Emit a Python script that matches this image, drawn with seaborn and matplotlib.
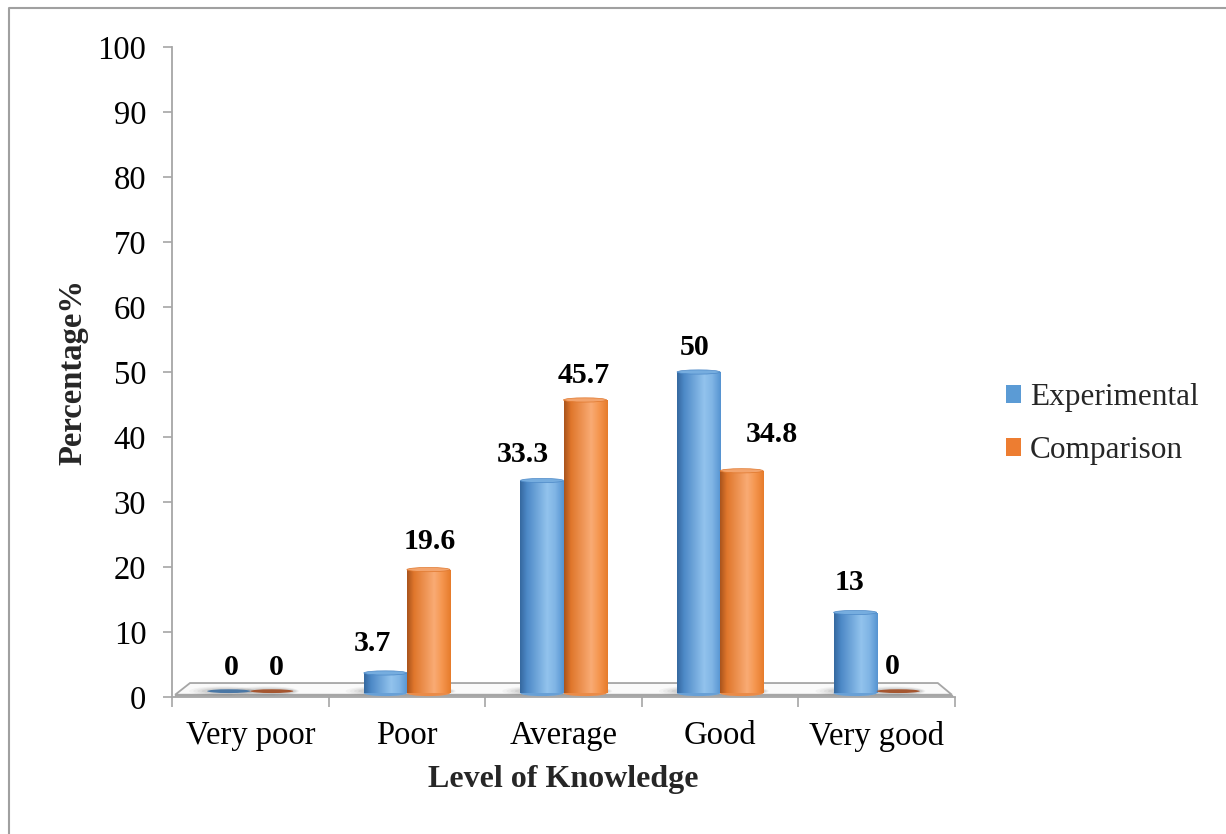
import numpy as np
import pandas as pd
import matplotlib
matplotlib.use("Agg")
import matplotlib.pyplot as plt
import seaborn as sns
from matplotlib.patches import Ellipse, Polygon, Patch
from matplotlib.lines import Line2D
from matplotlib.colors import to_rgb

# ---- data -------------------------------------------------------------
levels = ["Very poor", "Poor", "Average", "Good", "Very good"]
groups = ["Experimental", "Comparison"]
experimental = [0, 3.7, 33.3, 50, 13]
comparison = [0, 19.6, 45.7, 34.8, 0]
y_ticks = [0, 10, 20, 30, 40, 50, 60, 70, 80, 90, 100]

# label nudges (points) so the value labels sit clear of each other
exp_label_nudge = [(2, -1), (-9, -1), (-14, -3.3), (-3, -4.5), (-4, -0.3)]
comp_label_nudge = [(3, -1), (1, -2), (-1, -4.5), (22, 3.8), (-4, 0)]

# ---- style ------------------------------------------------------------
sns.set_style("white")
plt.rcParams["font.family"] = ["Liberation Serif", "DejaVu Serif"]

BLUE = "#5b9bd5"
ORANGE = "#ed7d31"
GRID_GREY = "#a6a6a6"

shade = {
    BLUE: dict(stops=["#35689f", "#4d89c7", "#92c3ed", "#80b5e5", "#5593d1"],
               cap="#76addf", flat="#4a77a5"),
    ORANGE: dict(stops=["#a9531c", "#e0772c", "#f9ab74", "#f5964f", "#e67b2b"],
                 cap="#f3a46d", flat="#a55630"),
}
stop_pos = [0.0, 0.16, 0.62, 0.8, 1.0]

df = pd.DataFrame({
    "level": levels * 2,
    "group": [groups[0]] * len(levels) + [groups[1]] * len(levels),
    "pct": experimental + comparison,
})

W, H = 1226, 834
fig = plt.figure(figsize=(W / 100, H / 100), dpi=100)
ax = fig.add_axes([172 / W, 1 - 697 / H, (955 - 172) / W, (697 - 47) / H])

sns.barplot(data=df, x="level", y="pct", hue="group", hue_order=groups,
            order=levels, palette=[BLUE, ORANGE], width=0.55, saturation=1,
            legend=False, ax=ax, zorder=3, linewidth=0)

# floor of the chart
floor_top = Polygon([(-0.385, 2.15), (4.39, 2.15), (4.48, 0.35), (-0.48, 0.35)],
                    closed=True, facecolor="#fafafa", edgecolor=GRID_GREY,
                    lw=1.3, zorder=1)
floor_front = Polygon([(-0.48, 0.35), (4.48, 0.35), (4.48, 0.0), (-0.48, 0.0)],
                      closed=True, facecolor="#e6e6e6", edgecolor=GRID_GREY,
                      lw=1.0, zorder=1)
ax.add_patch(floor_top)
ax.add_patch(floor_front)


def gradient_row(stops, n=200):
    rgb = np.array([to_rgb(c) for c in stops])
    t = np.linspace(0, 1, n)
    row = np.stack([np.interp(t, stop_pos, rgb[:, k]) for k in range(3)], axis=-1)
    return row[np.newaxis, :, :]


cap_h = 0.65  # cap ellipse height in data units
for container, base, values, nudges in zip(
        ax.containers, [BLUE, ORANGE], [experimental, comparison],
        [exp_label_nudge, comp_label_nudge]):
    style = shade[base]
    for bar, v, (dx, dy) in zip(container, values, nudges):
        x, w, h = bar.get_x(), bar.get_width(), bar.get_height()
        cx = x + w / 2
        # soft shadow on the floor
        for k, a in enumerate([0.05, 0.06, 0.08, 0.10]):
            sh = Ellipse((cx - 0.04 * (4 - k) / 4, 0.9), w * (1.55 - 0.12 * k),
                         1.5 - 0.2 * k, facecolor="#606060", alpha=a,
                         lw=0, zorder=2)
            ax.add_patch(sh)
        if h > 0:
            im = ax.imshow(gradient_row(style["stops"]), extent=(x, x + w, 0.6, h),
                           aspect="auto", zorder=3.5, interpolation="bilinear")
            im.set_clip_path(bar)
            bottom = Ellipse((cx, 0.6), w, cap_h * 1.4, facecolor=style["stops"][2],
                             lw=0, zorder=3.4)
            ax.add_patch(bottom)
            ax.add_patch(Ellipse((cx, 0.6), w, cap_h * 1.4, facecolor=style["stops"][1],
                                 alpha=0.6, lw=0, zorder=3.45))
            cap = Ellipse((cx, h), w, cap_h, facecolor=style["cap"],
                          edgecolor=style["stops"][1], lw=0.5, zorder=4)
            ax.add_patch(cap)
            bar.set_y(0.6)
            bar.set_height(h - 0.6)
        else:
            flat = Ellipse((cx, 0.9), w, cap_h * 0.9, facecolor=style["flat"],
                           lw=0, zorder=4)
            ax.add_patch(flat)
        ax.annotate(f"{v:g}", (cx, v), xytext=(dx, 22 + dy),
                    textcoords="offset points", ha="center", va="center",
                    fontsize=21.5, fontweight="bold", color="black", zorder=6)

# ---- axes -------------------------------------------------------------
ax.set_xlim(-0.5, 4.5)
ax.set_ylim(0, 100)
ax.set_yticks(y_ticks)
ax.set_yticklabels([str(t) for t in y_ticks])
ax.set_xticks(range(len(levels)))
ax.set_xticklabels(levels)
ax.set_xticks(np.arange(-0.5, len(levels), 1), minor=True)

for side in ["top", "right"]:
    ax.spines[side].set_visible(False)
for side in ["left", "bottom"]:
    ax.spines[side].set_color(GRID_GREY)
    ax.spines[side].set_linewidth(1.3)

ax.tick_params(axis="y", which="major", length=6.5, width=1.2, color=GRID_GREY,
               pad=12, labelsize=23.5, labelcolor="black", direction="out", left=True)
ax.tick_params(axis="x", which="major", length=0, pad=17, labelsize=23.5,
               labelcolor="black", bottom=True)
ax.tick_params(axis="x", which="minor", length=7.5, width=1.2, color=GRID_GREY,
               direction="out", bottom=True)

ax.set_xlabel("Level of Knowledge", fontsize=23, fontweight="bold")
ax.set_ylabel("Percentage%", fontsize=23.5, fontweight="bold")
ax.xaxis.set_label_coords(0.5, (697 - 779) / 650)
ax.xaxis.label.set_va("center")
ax.yaxis.set_label_coords((73 - 172) / 783, 0.5)
ax.yaxis.label.set_va("center")

# ---- legend -----------------------------------------------------------
handles = [Patch(facecolor=BLUE, edgecolor="none"),
           Patch(facecolor=ORANGE, edgecolor="none")]
fig.legend(handles, groups, loc="center left",
           bbox_to_anchor=(993 / W, 1 - 424 / H), frameon=False,
           fontsize=22.5, handlelength=0.5, handleheight=0.5,
           handletextpad=0.28, labelspacing=0.75, borderaxespad=0)

# chart-area border (left and top edges)
fig.add_artist(Line2D([8.5 / W, 8.5 / W, 1.0], [0.0, 1 - 7.5 / H, 1 - 7.5 / H],
                      transform=fig.transFigure, color="#a0a0a0", lw=1.5))

fig.savefig("out.png", dpi=100)
